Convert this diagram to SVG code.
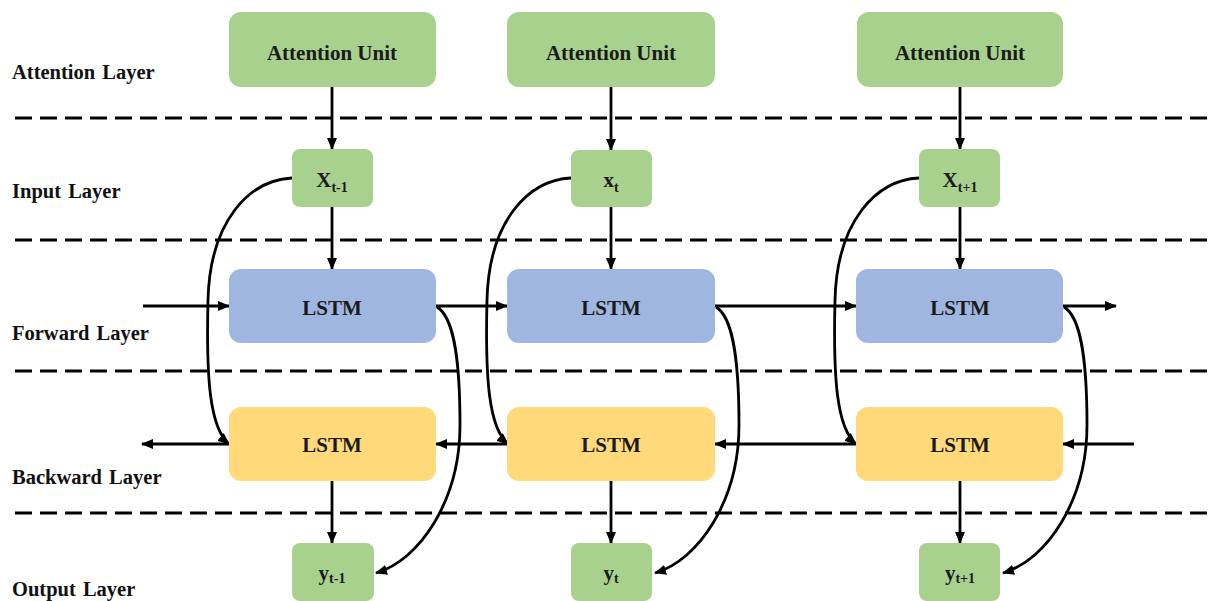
<svg xmlns="http://www.w3.org/2000/svg" width="1215" height="601" viewBox="0 0 1215 601">
  <style>
    .lbl { font-family: "Liberation Serif", "Times New Roman", serif; font-weight: bold; font-size: 20.5px; word-spacing: 2px; fill: #111; }
    .txt { font-family: "Liberation Serif", "Times New Roman", serif; font-weight: bold; font-size: 21px; fill: #1a1a1a; text-anchor: middle; }
    .sub { font-size: 14px; }
    .green { fill: #a9d18e; }
    .blue { fill: #9fb6e0; }
    .gold { fill: #ffd97a; }
    .dash { stroke: #000; stroke-width: 3; stroke-dasharray: 17 8; fill: none; }
    .wire { stroke: #000; stroke-width: 2.8; fill: none; marker-end: url(#arr); }
  </style>
  <defs>
    <marker id="arr" viewBox="0 0 12 10" refX="11" refY="5" markerWidth="12" markerHeight="10" markerUnits="userSpaceOnUse" orient="auto">
      <path d="M0,0 L12,5 L0,10 Z" fill="#000"/>
    </marker>
  </defs>

  <rect width="1215" height="601" fill="#fff"/>

  <!-- layer separators -->
  <g id="separators">
    <line class="dash" x1="15" y1="118" x2="1215" y2="118"/>
    <line class="dash" x1="15" y1="240" x2="1215" y2="240"/>
    <line class="dash" x1="15" y1="371" x2="1215" y2="371"/>
    <line class="dash" x1="15" y1="513" x2="1215" y2="513"/>
  </g>

  <!-- layer names -->
  <g id="layer-labels">
    <text class="lbl" x="12" y="79">Attention Layer</text>
    <text class="lbl" x="12" y="198">Input Layer</text>
    <text class="lbl" x="12" y="340">Forward Layer</text>
    <text class="lbl" x="12" y="484">Backward Layer</text>
    <text class="lbl" x="12" y="596">Output Layer</text>
  </g>

  <!-- connectors -->
  <g id="connectors">
    <!-- attention -> input -->
    <path class="wire" d="M332,87 V149"/>
    <path class="wire" d="M611,87 V150"/>
    <path class="wire" d="M960,87 V149"/>
    <!-- input -> forward LSTM -->
    <path class="wire" d="M332,207 V269"/>
    <path class="wire" d="M611,207 V269"/>
    <path class="wire" d="M960,207 V269"/>
    <!-- backward LSTM -> output -->
    <path class="wire" d="M332,481 V543"/>
    <path class="wire" d="M611,481 V543"/>
    <path class="wire" d="M960,481 V543"/>
    <!-- forward chain -->
    <path class="wire" d="M143,306 H229"/>
    <path class="wire" d="M436,306 H507"/>
    <path class="wire" d="M715,306 H856"/>
    <path class="wire" d="M1063,306 H1116"/>
    <!-- backward chain -->
    <path class="wire" d="M1134,444 H1063"/>
    <path class="wire" d="M856,444 H715"/>
    <path class="wire" d="M507,444 H436"/>
    <path class="wire" d="M229,444 H142"/>
    <!-- input -> backward LSTM -->
    <path class="wire" d="M292,178 C250,180 210,220 208,300 C206,380 210,428 229,444"/>
    <path class="wire" d="M571,178 C529,180 489,220 487,300 C485,380 489,428 508,444"/>
    <path class="wire" d="M919,178 C877,180 837,220 835,300 C833,380 837,428 856,444"/>
    <!-- forward LSTM -> output -->
    <path class="wire" d="M437,307 C452,316 460,350 460,425 C460,500 420,560 376,573"/>
    <path class="wire" d="M716,307 C731,316 739,350 739,425 C739,500 699,560 655,573"/>
    <path class="wire" d="M1064,307 C1079,316 1087,350 1087,425 C1087,500 1047,560 1003,573"/>
  </g>

  <!-- attention units -->
  <g id="att1"><rect class="green" x="229" y="12" width="207" height="75" rx="12"/><text class="txt" x="332" y="60">Attention Unit</text></g>
  <g id="att2"><rect class="green" x="507" y="12" width="208" height="75" rx="12"/><text class="txt" x="611" y="60">Attention Unit</text></g>
  <g id="att3"><rect class="green" x="857" y="12" width="206" height="75" rx="12"/><text class="txt" x="960" y="60">Attention Unit</text></g>

  <!-- inputs -->
  <g id="x1"><rect class="green" x="292" y="149" width="81" height="58" rx="8"/><text class="txt" x="332" y="187">X<tspan class="sub" dy="5">t-1</tspan></text></g>
  <g id="x2"><rect class="green" x="571" y="150" width="81" height="57" rx="8"/><text class="txt" x="611" y="187">x<tspan class="sub" dy="5">t</tspan></text></g>
  <g id="x3"><rect class="green" x="919" y="149" width="81" height="58" rx="8"/><text class="txt" x="960" y="187">X<tspan class="sub" dy="5">t+1</tspan></text></g>

  <!-- forward LSTM cells -->
  <g id="fw1"><rect class="blue" x="229" y="269" width="207" height="74" rx="12"/><text class="txt" x="332" y="315">LSTM</text></g>
  <g id="fw2"><rect class="blue" x="507" y="269" width="208" height="74" rx="12"/><text class="txt" x="611" y="315">LSTM</text></g>
  <g id="fw3"><rect class="blue" x="856" y="269" width="207" height="74" rx="12"/><text class="txt" x="960" y="315">LSTM</text></g>

  <!-- backward LSTM cells -->
  <g id="bw1"><rect class="gold" x="229" y="407" width="207" height="74" rx="12"/><text class="txt" x="332" y="452">LSTM</text></g>
  <g id="bw2"><rect class="gold" x="507" y="407" width="208" height="74" rx="12"/><text class="txt" x="611" y="452">LSTM</text></g>
  <g id="bw3"><rect class="gold" x="856" y="407" width="207" height="74" rx="12"/><text class="txt" x="960" y="452">LSTM</text></g>

  <!-- outputs -->
  <g id="y1"><rect class="green" x="292" y="543" width="82" height="58" rx="8"/><text class="txt" x="332" y="580">y<tspan class="sub" dy="3">t-1</tspan></text></g>
  <g id="y2"><rect class="green" x="571" y="543" width="81" height="58" rx="8"/><text class="txt" x="611" y="580">y<tspan class="sub" dy="3">t</tspan></text></g>
  <g id="y3"><rect class="green" x="919" y="543" width="81" height="58" rx="8"/><text class="txt" x="960" y="580">y<tspan class="sub" dy="3">t+1</tspan></text></g>
</svg>
